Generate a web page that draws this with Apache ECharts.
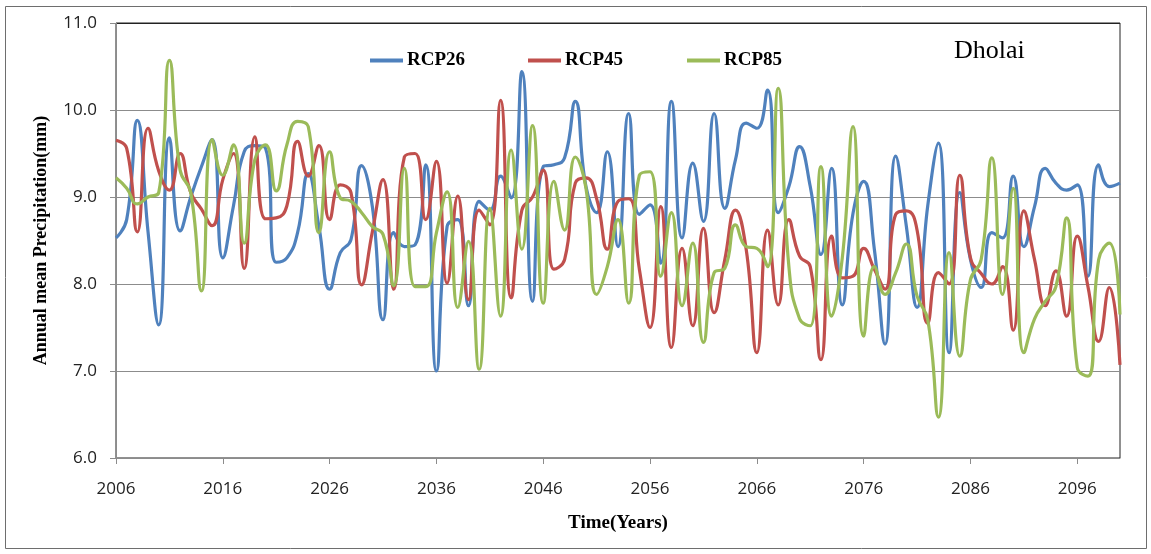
<!DOCTYPE html>
<html>
<head>
<meta charset="utf-8">
<script src="https://cdn.jsdelivr.net/npm/echarts@6/dist/echarts.min.js"></script>
<style>
html,body{margin:0;padding:0;background:#fff;}
#chart{width:1151px;height:554px;}
</style>
</head>
<body>
<div id="chart"></div>
<script>
// Years 2006..2100
const years = [];
for (let y = 2006; y <= 2100; y++) years.push(String(y));

const rcp26 = [
  8.53, 8.74, 9.88, 8.60, 7.53, 9.68, 8.61, 9.00, 9.35, 9.66,
  8.30, 8.90, 9.52, 9.59, 9.56, 8.25, 8.30, 8.59, 9.27, 8.66,
  7.94, 8.36, 8.51, 9.36, 8.89, 7.59, 8.59, 8.43, 8.45, 9.37,
  7.00, 8.66, 8.74, 7.75, 8.95, 8.85, 9.24, 8.99, 10.44, 7.80,
  9.35, 9.37, 9.45, 10.10, 9.12, 8.82, 9.52, 8.43, 9.96, 8.80,
  8.91, 8.24, 10.10, 8.53, 9.39, 8.72, 9.96, 8.87, 9.43, 9.85,
  9.79, 10.23, 8.82, 9.12, 9.58, 9.12, 8.34, 9.33, 7.76, 8.81,
  9.18, 8.40, 7.31, 9.47, 8.66, 7.73, 8.90, 9.62, 7.21, 9.05,
  8.28, 7.96, 8.59, 8.53, 9.24, 8.43, 8.89, 9.33, 9.16, 9.08,
  9.14, 8.09, 9.37, 9.12, 9.16
];

const rcp45 = [
  9.65, 9.56, 8.60, 9.79, 9.30, 9.08, 9.50, 9.05, 8.86, 8.67,
  9.20, 9.50, 8.18, 9.69, 8.75, 8.76, 8.90, 9.64, 9.24, 9.59,
  8.74, 9.14, 9.05, 7.99, 8.60, 9.20, 7.94, 9.46, 9.50, 8.74,
  9.41, 8.01, 9.01, 7.82, 8.85, 8.68, 10.11, 7.84, 8.85, 9.00,
  9.31, 8.17, 8.28, 9.16, 9.22, 8.98, 8.40, 8.95, 8.98, 8.17,
  7.50, 8.89, 7.27, 8.41, 7.52, 8.64, 7.67, 8.28, 8.85, 8.40,
  7.21, 8.62, 7.76, 8.74, 8.32, 8.20, 7.13, 8.55, 8.07, 8.09,
  8.41, 8.17, 7.94, 8.80, 8.84, 8.62, 7.55, 8.13, 8.00, 9.25,
  8.30, 8.12, 8.00, 8.20, 7.47, 8.84, 8.28, 7.75, 8.15, 7.63,
  8.55, 7.97, 7.34, 7.96, 7.07
];

const rcp85 = [
  9.22, 9.10, 8.92, 9.00, 9.05, 10.57, 9.31, 9.05, 7.92, 9.66,
  9.25, 9.60, 8.47, 9.43, 9.60, 9.07, 9.60, 9.87, 9.81, 8.59,
  9.52, 8.99, 8.95, 8.82, 8.66, 8.57, 7.98, 9.33, 7.97, 7.97,
  8.59, 9.06, 7.73, 8.49, 7.02, 8.87, 7.63, 9.54, 8.40, 9.82,
  7.78, 9.18, 8.62, 9.46, 9.10, 7.88, 8.20, 8.74, 7.78, 9.25,
  9.29, 8.09, 8.82, 7.75, 8.47, 7.33, 8.13, 8.18, 8.68, 8.43,
  8.41, 8.20, 10.25, 8.20, 7.60, 7.52, 9.35, 7.63, 8.30, 9.81,
  7.40, 8.20, 7.88, 8.13, 8.46, 7.86, 7.59, 6.47, 8.36, 7.17,
  8.05, 8.28, 9.45, 7.88, 9.10, 7.21, 7.60, 7.80, 7.97, 8.76,
  7.04, 6.94, 8.28, 8.47, 7.65
];

const seriesNames = ['RCP26', 'RCP45', 'RCP85'];
const seriesColors = ['#4F81BD', '#C0504D', '#9BBB59'];
const seriesData = [rcp26, rcp45, rcp85];
const yTicks = [6, 7, 8, 9, 10, 11];

const serif = '"Liberation Serif", "Times New Roman", serif';
const sans = '"Open Sans", "Liberation Sans", sans-serif';
const gridGray = '#8c8c8c';

const chart = echarts.init(document.getElementById('chart'), null, {renderer: 'canvas'});

const legendLefts = [365, 523, 682];
const legends = seriesNames.map((n, k) => ({
  data: [n],
  left: legendLefts[k],
  top: 46,
  icon: 'rect',
  itemWidth: 33,
  itemHeight: 4,
  itemGap: 0,
  selectedMode: false,
  textStyle: {fontFamily: serif, fontWeight: 'bold', fontSize: 19, color: '#000', padding: [0, 0, 0, -1]}
}));

chart.setOption({
  animation: false,
  backgroundColor: '#fff',
  legend: legends,
  grid: {left: 116, right: 31, top: 23, bottom: 96, show: true, borderColor: '#222', borderWidth: 1, backgroundColor: 'transparent'},
  xAxis: {
    type: 'category',
    data: years,
    boundaryGap: false,
    name: 'Time(Years)',
    nameLocation: 'middle',
    nameGap: 56,
    nameTextStyle: {fontFamily: serif, fontWeight: 'bold', fontSize: 19, color: '#000'},
    axisLine: {lineStyle: {color: gridGray, width: 1}},
    axisTick: {show: true, interval: 9, length: 6, lineStyle: {color: gridGray}},
    axisLabel: {interval: 9, margin: 23, fontFamily: sans, fontSize: 17, color: '#222'},
    splitLine: {show: false}
  },
  yAxis: {
    type: 'value',
    min: yTicks[0],
    max: yTicks[yTicks.length - 1],
    interval: 1,
    name: 'Annual mean Precipitation(mm)',
    nameLocation: 'middle',
    nameGap: 66,
    nameRotate: 90,
    nameTextStyle: {fontFamily: serif, fontWeight: 'bold', fontSize: 18, color: '#000'},
    axisLine: {show: true, lineStyle: {color: gridGray, width: 1}},
    axisTick: {show: true, length: 6, lineStyle: {color: gridGray}},
    axisLabel: {margin: 19, fontFamily: sans, fontSize: 17, color: '#222', formatter: v => v.toFixed(1)},
    splitLine: {show: true, lineStyle: {color: [gridGray, gridGray, gridGray, gridGray, gridGray, '#222'], width: 1}}
  },
  graphic: [
    {type: 'rect', shape: {x: 5.5, y: 6.5, width: 1141, height: 542}, style: {fill: 'none', stroke: '#6e6e6e', lineWidth: 1}, silent: true, z: -1},
    {type: 'text', left: 954, top: 38, style: {text: 'Dholai', fontFamily: serif, fontSize: 26, fill: '#000'}}
  ],
  series: seriesNames.map((n, k) => ({
    name: n,
    type: 'line',
    data: seriesData[k],
    smooth: 0.5,
    showSymbol: false,
    symbol: 'none',
    lineStyle: {color: seriesColors[k], width: 3.2},
    itemStyle: {color: seriesColors[k]}
  }))
});
</script>
</body>
</html>
